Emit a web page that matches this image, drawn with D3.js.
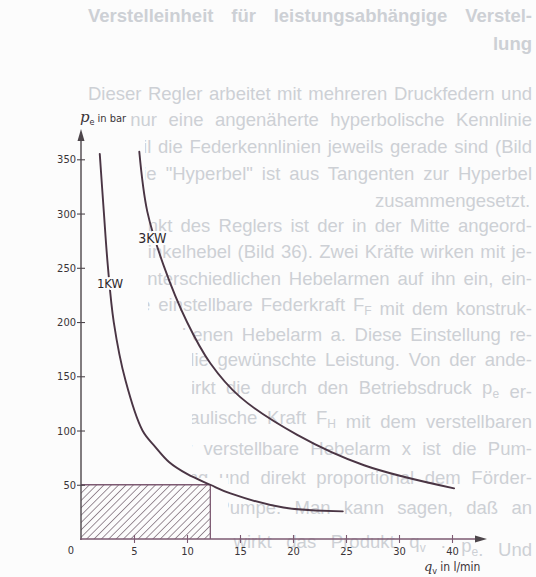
<!DOCTYPE html>
<html>
<head>
<meta charset="utf-8">
<script src="https://cdn.jsdelivr.net/npm/d3@7"></script>
<style>
  body { margin: 0; background: #fcfcfc; }
  svg { display: block; }
</style>
</head>
<body>
<div id="chart"></div>
<script>
// faint page text behind the figure
const headingLines = ["Verstelleinheit für leistungsabhängige Verstel-", "lung"];
const bodyLines = [
  "Dieser Regler arbeitet mit mehreren Druckfedern und",
  "läßt nur eine angenäherte hyperbolische Kennlinie",
  "zu, weil die Federkennlinien jeweils gerade sind (Bild",
  "35). Die \"Hyperbel\" ist aus Tangenten zur Hyperbel",
  "zusammengesetzt.",
  "Kernpunkt des Reglers ist der in der Mitte angeord-",
  "nete Winkelhebel (Bild 36). Zwei Kräfte wirken mit je-",
  "weils unterschiedlichen Hebelarmen auf ihn ein, ein-",
  "mal die einstellbare Federkraft F_F mit dem konstruk-",
  "tiv vorgegebenen Hebelarm a. Diese Einstellung re-",
  "präsentiert die gewünschte Leistung. Von der ande-",
  "ren Seite wirkt die durch den Betriebsdruck p_e er-",
  "zeugte hydraulische Kraft F_H mit dem verstellbaren",
  "Weg x. Der verstellbare Hebelarm x ist die Pum-",
  "penverstellung und direkt proportional dem Förder-",
  "strom q_v der Pumpe. Man kann sagen, daß an",
  "dem Hebelarm wirkt das Produkt q_v · p_e. Und"
];

// axes
const qTicks = [5, 10, 15, 20, 25, 30, 35];
const qTickLabels = ["5", "10", "15", "20", "25", "30", "40"];
const pTicks = [50, 100, 150, 200, 250, 300, 350];

// curves (q in l/min, p in bar)
const q1kw = [1.77, 2.15, 2.53, 3.09, 4.2, 5.8, 7.0, 8.3, 10, 12.2, 14.1, 19.1, 24.7];
const p1kw = [355, 302, 252, 200, 146, 100, 85, 71, 60, 50, 42, 29, 25.5];
const q3kw = [5.5, 6.25, 7.8, 10, 12.2, 15, 20.4, 26.7, 35.2];
const p3kw = [357, 302, 252, 200, 162, 131, 96, 68, 46.7];

const curveNames = ["1KW", "3KW"];
const curveLabelQ = [1.5, 5.4];
const curveLabelP = [231, 273];

// hatched working area
const areaQ = 12.2;
const areaP = 50;

const W = 536, H = 577;
const svg = d3.select("#chart").append("svg")
  .attr("width", W).attr("height", H);

const x = d3.scaleLinear().domain([0, 35]).range([81, 452]);
const y = d3.scaleLinear().domain([0, 350]).range([539, 159.3]);

const pageCol = "#fcfcfc";
const textCol = "#cdd0d5";
const axisCol = "#4d464b";
const xAxisCol = "#7d5a72";
const curveCol = "#4a3544";
const labelFont = "'DejaVu Sans Condensed', 'Liberation Sans Narrow', sans-serif";

// --- background text ---
const bg = svg.append("g").attr("fill", textCol)
  .style("font-family", "'Liberation Sans', Arial, sans-serif");

function addLine(g, str, px, py, size, weight) {
  const t = g.append("text").attr("x", px).attr("y", py)
    .style("font-size", size + "px").style("font-weight", weight || "normal");
  // F_F style subscripts
  str.split(/(\S_\S)/).forEach(part => {
    if (/^\S_\S$/.test(part)) {
      t.append("tspan").text(part[0]);
      t.append("tspan").attr("dy", 4).style("font-size", (size * 0.65) + "px").text(part[2]);
      t.append("tspan").attr("dy", -4).text("");
    } else if (part.length) {
      t.append("tspan").text(part);
    }
  });
  return t;
}

function justify(t, width) {
  const natural = t.node().getComputedTextLength();
  const spaces = (t.text().match(/ /g) || []).length;
  if (spaces) t.style("word-spacing", ((width - natural) / spaces) + "px");
}

const left = 88, right = 532, fs = 18.5;
const h0 = addLine(bg, headingLines[0], left, 22, fs, "bold");
justify(h0, right - left);
addLine(bg, headingLines[1], right, 50, fs, "bold").attr("text-anchor", "end");

const baselines = [100, 126, 153, 180, 207, 232, 258, 285, 311, 341, 366, 394, 424, 455, 484, 510, 548];
bodyLines.forEach((s, i) => {
  if (s === "zusammengesetzt.") {
    addLine(bg, s, 375, baselines[i], fs);
  } else {
    const t = addLine(bg, s, left, baselines[i], fs);
    justify(t, right - left);
  }
});

// the figure was pasted over the page: page text is blanked out near the axes
svg.append("path")
  .attr("d", "M0,108H128V135H145V195H148V330H192V478H228V577H0Z")
  .attr("fill", pageCol);

// --- hatched rectangle ---
const defs = svg.append("defs");
defs.append("pattern")
  .attr("id", "hatch")
  .attr("patternUnits", "userSpaceOnUse")
  .attr("width", 5.2).attr("height", 5.2)
  .attr("patternTransform", "rotate(45)")
  .append("line")
  .attr("x1", 0).attr("y1", 0).attr("x2", 0).attr("y2", 5.2)
  .attr("stroke", "#584252").attr("stroke-width", 1.15);

svg.append("rect")
  .attr("x", x(0)).attr("y", y(areaP))
  .attr("width", x(areaQ) - x(0)).attr("height", y(0) - y(areaP))
  .attr("fill", "url(#hatch)");

svg.append("path")
  .attr("d", `M${x(0)},${y(areaP)}H${x(areaQ)}V${y(0)}`)
  .attr("fill", "none").attr("stroke", xAxisCol).attr("stroke-width", 1.3);

// --- axes ---
const yAxis = svg.append("g")
  .attr("transform", `translate(${x(0)},0)`)
  .call(d3.axisLeft(y).tickValues(pTicks).tickSize(4).tickPadding(1));
yAxis.select(".domain").remove();
yAxis.selectAll("line").attr("x1", 4).attr("stroke", axisCol).attr("stroke-width", 1.1);
yAxis.selectAll("text").attr("fill", "#3a3438")
  .style("font-family", labelFont).style("font-size", "11px");

const xAxis = svg.append("g")
  .attr("transform", `translate(0,${y(0)})`)
  .call(d3.axisBottom(x).tickValues(qTicks)
    .tickFormat((d, i) => qTickLabels[i]).tickSize(4).tickPadding(4));
xAxis.select(".domain").remove();
xAxis.selectAll("line").attr("y1", -4).attr("stroke", xAxisCol).attr("stroke-width", 1.1);
xAxis.selectAll("text").attr("fill", "#3a3438")
  .style("font-family", labelFont).style("font-size", "11px");

svg.append("text")
  .attr("x", x(0) - 10).attr("y", y(0) + 15)
  .attr("text-anchor", "middle")
  .attr("fill", "#3a3438")
  .style("font-family", labelFont).style("font-size", "11px")
  .text("0");

// axis lines with arrows
svg.append("line")
  .attr("x1", x(0)).attr("y1", y(0) + 1).attr("x2", x(0)).attr("y2", 138)
  .attr("stroke", axisCol).attr("stroke-width", 1.4);
svg.append("path")
  .attr("d", `M${x(0)},129L${x(0) - 3.5},141L${x(0) + 3.5},141Z`)
  .attr("fill", axisCol);

svg.append("line")
  .attr("x1", x(0) - 1).attr("y1", y(0)).attr("x2", 477).attr("y2", y(0))
  .attr("stroke", xAxisCol).attr("stroke-width", 1.4);
svg.append("path")
  .attr("d", `M487,${y(0)}L475,${y(0) - 3.5}L475,${y(0) + 3.5}Z`)
  .attr("fill", axisCol);

// axis titles
const yt = svg.append("text").attr("x", 80).attr("y", 122)
  .attr("fill", "#3a3438");
yt.append("tspan").text("p")
  .style("font-family", "'DejaVu Serif', serif").style("font-style", "italic")
  .style("font-size", "15px");
yt.append("tspan").attr("dy", 3).text("e")
  .style("font-family", labelFont).style("font-size", "9px");
yt.append("tspan").attr("dy", -3).attr("dx", 3).text("in bar")
  .style("font-family", labelFont).style("font-size", "11px");

const xt = svg.append("text").attr("x", 424).attr("y", 571)
  .attr("fill", "#3a3438");
xt.append("tspan").text("q")
  .style("font-family", "'DejaVu Serif', serif").style("font-style", "italic")
  .style("font-size", "13px");
xt.append("tspan").attr("dy", 3).text("v")
  .style("font-family", labelFont).style("font-size", "9px");
xt.append("tspan").attr("dy", -3).attr("dx", 3).text("in l/min")
  .style("font-family", labelFont).style("font-size", "12px");

// --- curves ---
const line = d3.line()
  .x(d => x(d[0])).y(d => y(d[1]))
  .curve(d3.curveCatmullRom.alpha(0.5));

const curves = [
  d3.zip(q1kw, p1kw),
  d3.zip(q3kw, p3kw)
];

svg.selectAll(".curve")
  .data(curves)
  .enter().append("path")
  .attr("class", "curve")
  .attr("d", line)
  .attr("fill", "none")
  .attr("stroke", curveCol)
  .attr("stroke-width", 1.9)
  .attr("stroke-linecap", "round");

// curve names break the line they sit on
svg.selectAll(".clabel")
  .data(curveNames)
  .enter().append("text")
  .attr("class", "clabel")
  .attr("x", (d, i) => x(curveLabelQ[i]))
  .attr("y", (d, i) => y(curveLabelP[i]))
  .attr("fill", "#2e282c")
  .attr("stroke", pageCol)
  .attr("stroke-width", 4)
  .attr("paint-order", "stroke")
  .style("font-family", labelFont)
  .style("font-size", (d, i) => i ? "14px" : "13px")
  .text(d => d);
</script>
</body>
</html>
